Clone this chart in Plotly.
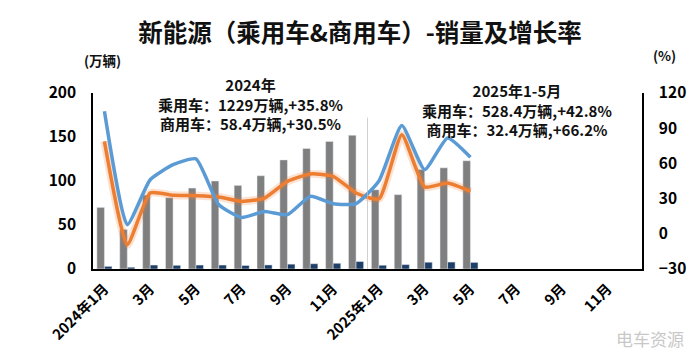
import plotly.graph_objects as go

months = [f"{y}年{m}月" for y in (2024, 2025) for m in range(1, 13)]
tick_vals = months[::2]
tick_text = ["2024年1月", "3月", "5月", "7月", "9月", "11月",
             "2025年1月", "3月", "5月", "7月", "9月", "11月"]

data_months = months[:17]
passenger_sales = [70, 45, 84, 81, 92, 100, 95, 106, 124, 137, 145, 152,
                   90, 84.5, 113, 115, 123]
commercial_sales = [3.0, 2.0, 4.5, 4.2, 4.5, 4.5, 4.0, 4.6, 5.5, 6.0, 6.5, 8.5,
                    4.3, 5.0, 7.7, 7.9, 7.5]
passenger_growth = [78.8, -9.3, 34.8, 32.8, 32.5, 31.4, 27.6, 30.5, 44.7, 51.0, 49.0, 34.8,
                    29.7, 84.5, 39.9, 43.3, 36.2]
commercial_growth = [104.4, 7.8, 46.1, 58.9, 63.8, 24.8, 14.0, 19.1, 16.3, 31.9, 25.7, 25.7,
                     45.0, 92.2, 54.7, 81.7, 65.2]

FONT = "Noto Sans CJK SC"
OFF = 8  # page body margin
W, H = 700 - OFF, 357 - OFF
L, R, T, B = 93 - OFF, 642 - OFF, 93 - OFF, 269 - OFF

fig = go.Figure()
fig.add_bar(x=data_months, y=passenger_sales, name="乘用车销量", marker_color="#7f7f7f")
fig.add_bar(x=data_months, y=commercial_sales, name="商用车销量", marker_color="#1f3f66")
fig.add_scatter(x=data_months, y=passenger_growth, yaxis="y2", mode="lines",
                line=dict(color="rgba(237,125,49,0.22)", width=8, shape="spline", smoothing=0.5),
                showlegend=False, hoverinfo="skip")
fig.add_scatter(x=data_months, y=passenger_growth, yaxis="y2", mode="lines", name="乘用车增速",
                line=dict(color="#ed7d31", width=3.5, shape="spline", smoothing=0.5))
fig.add_scatter(x=data_months, y=commercial_growth, yaxis="y2", mode="lines", name="商用车增速",
                line=dict(color="#5b9bd5", width=3.5, shape="spline", smoothing=0.5))

fig.update_layout(
    width=W, height=H,
    margin=dict(l=L, r=W - R, t=T, b=H - B, autoexpand=False),
    paper_bgcolor="white", plot_bgcolor="white",
    showlegend=False,
    barmode="group", bargap=0.34, bargroupgap=0,
    font=dict(family=FONT, color="#000"),
    title=dict(text="<b>新能源（乘用车&商用车）-销量及增长率</b>", x=(360 - OFF) / W, xanchor="center",
               y=1 - (33 - OFF) / H, yanchor="middle", font=dict(size=24.5, color="#111")),
    xaxis=dict(type="category", categoryorder="array", categoryarray=months, range=[-0.5, 23.5],
               tickmode="array", tickvals=tick_vals, ticktext=tick_text, tickangle=-45,
               tickfont=dict(size=14.5, family=FONT, weight="bold"), showline=True,
               linecolor="#000", linewidth=1.5, ticks="", showgrid=False, ticklabelstandoff=4),
    yaxis=dict(range=[0, 200], dtick=50, showline=True, linecolor="#000", linewidth=1.5,
               showgrid=False, zeroline=False, ticks="", ticklabelstandoff=12,
               tickfont=dict(size=15.5, family=FONT, weight="bold")),
    yaxis2=dict(range=[-30, 120], dtick=30, overlaying="y", side="right", showline=True,
                linecolor="#000", linewidth=1.5, showgrid=False, zeroline=False, ticks="",
                ticklabelstandoff=12, tickfont=dict(size=15.5, family=FONT, weight="bold")),
)

fig.add_shape(type="line", xref="x", yref="paper", x0=11.5, x1=11.5, y0=0, y1=0.86,
              line=dict(color="rgba(190,190,190,0.7)", width=1))

def ann(text, px, py, size=14, xanchor="center", color="#111"):
    fig.add_annotation(text=text, x=(px - OFF - L) / (R - L), y=(B - (py - OFF)) / (B - T),
                       xref="paper", yref="paper", showarrow=False,
                       xanchor=xanchor, yanchor="middle", align="center",
                       font=dict(size=size, color=color, family=FONT))

ann("<b>(万辆)</b>", 102, 60, size=13.5)
ann("<b>(%)</b>", 664, 55, size=13.5)
ann("<b>2024年<br>乘用车：1229万辆,+35.8%<br>商用车：58.4万辆,+30.5%</b>", 250, 104, size=15)
ann("<b>2025年1-5月<br>乘用车：528.4万辆,+42.8%<br>商用车：32.4万辆,+66.2%</b>", 517, 110, size=15)
ann("电车资源", 650, 338, size=17, color="#c8c8c8")

fig.write_html("out.html")
